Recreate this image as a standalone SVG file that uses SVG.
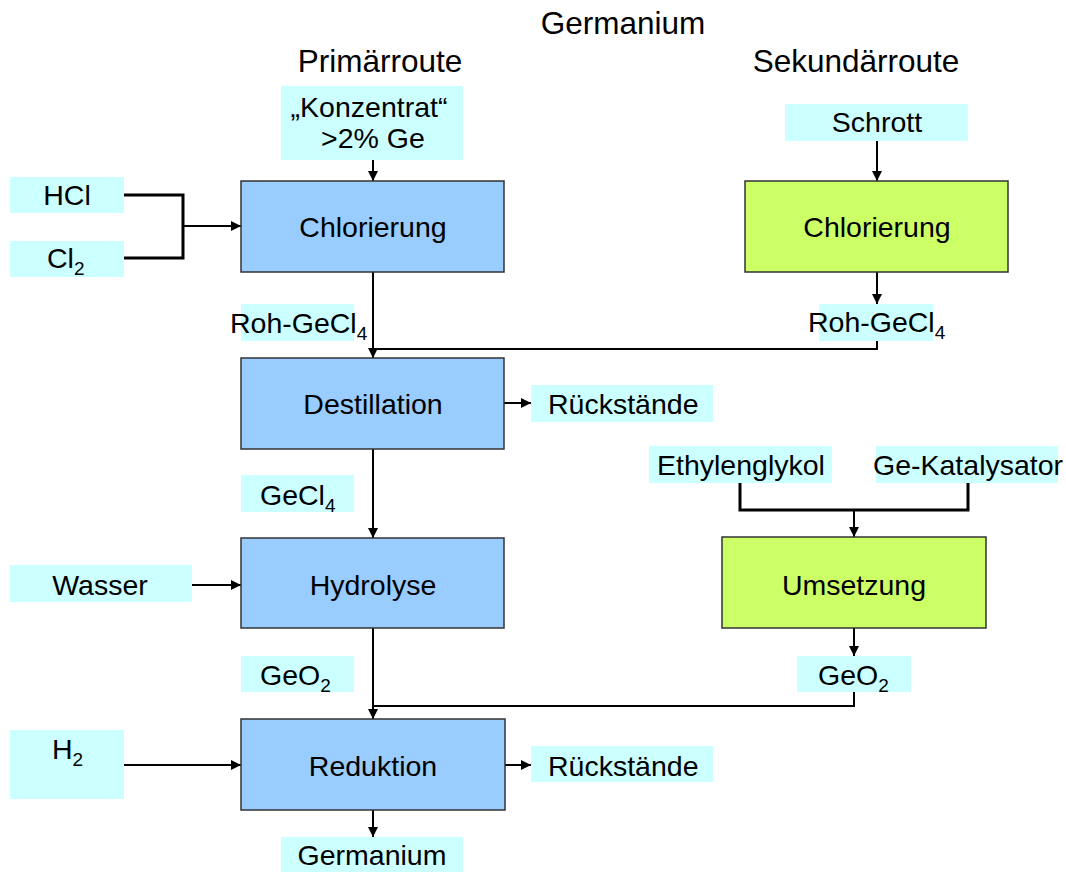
<svg xmlns="http://www.w3.org/2000/svg" width="1066" height="872" viewBox="0 0 1066 872">
  <style>
    text { font-family: "Liberation Sans", Arial, sans-serif; fill: #000; }
    .head { font-size: 31.5px; }
    .t { font-size: 28.5px; }
    .c { text-anchor: middle; }
    .sub { font-size: 19px; }
    .lbl { fill: #CCFFFF; stroke: none; }
    .blue { fill: #99CCFF; stroke: #333; stroke-width: 1.5; }
    .green { fill: #CCFF66; stroke: #333; stroke-width: 1.5; }
    .ln { fill: none; stroke: #000; stroke-width: 2; }
    .br { fill: none; stroke: #000; stroke-width: 3; }
    .arr { marker-end: url(#ah); }
  </style>
  <defs>
    <marker id="ah" markerUnits="userSpaceOnUse" markerWidth="11" markerHeight="11" refX="10" refY="5" orient="auto">
      <path d="M0,0 L10,5 L0,10 z" fill="#000"/>
    </marker>
  </defs>
  <rect width="1066" height="872" fill="#fff"/>

  <!-- headings -->
  <g id="headings">
    <text class="head c" x="623" y="34">Germanium</text>
    <text class="head c" x="380" y="72">Primärroute</text>
    <text class="head c" x="856" y="72">Sekundärroute</text>
  </g>

  <!-- connectors -->
  <g id="connectors">
    <path class="ln arr" d="M373,160 V181"/>
    <path class="br" d="M124,195 H183 V258 H124"/>
    <path class="ln arr" d="M183,226 H241"/>
    <path class="ln arr" d="M373,272 V358"/>
    <path class="ln arr" d="M877,141 V181"/>
    <path class="ln arr" d="M877,272 V304"/>
    <path class="ln" d="M877,341 V349 H373"/>
    <path class="ln arr" d="M504,403 H531"/>
    <path class="ln arr" d="M373,449 V538"/>
    <path class="ln arr" d="M192,585 H241"/>
    <path class="ln arr" d="M373,628 V719"/>
    <path class="br" d="M740,483 V510 H968 V483"/>
    <path class="ln arr" d="M854,510 V537"/>
    <path class="ln arr" d="M854,628 V656"/>
    <path class="ln" d="M854,692 V706 H373"/>
    <path class="ln arr" d="M124,765 H241"/>
    <path class="ln arr" d="M505,765 H531"/>
    <path class="ln arr" d="M373,810 V837"/>
  </g>

  <!-- primary route inputs -->
  <g id="konzentrat">
    <rect class="lbl" x="281" y="86" width="182" height="74"/>
    <text class="t c" x="369" y="117">„Konzentrat“</text>
    <text class="t c" x="373" y="148">&gt;2% Ge</text>
  </g>
  <g id="hcl">
    <rect class="lbl" x="10" y="177" width="114" height="36"/>
    <text class="t c" x="67" y="205">HCl</text>
  </g>
  <g id="cl2">
    <rect class="lbl" x="10" y="241" width="114" height="36"/>
    <text class="t" x="47" y="268">Cl<tspan class="sub" dy="7">2</tspan></text>
  </g>

  <!-- primary route process steps -->
  <g id="chlorierung-primaer">
    <rect class="blue" x="241" y="181" width="263" height="91"/>
    <text class="t c" x="373" y="237">Chlorierung</text>
  </g>
  <g id="roh-gecl4-links">
    <rect class="lbl" x="241" y="304" width="113" height="37"/>
    <text class="t" x="230" y="333">Roh-GeCl<tspan class="sub" dy="7">4</tspan></text>
  </g>
  <g id="destillation">
    <rect class="blue" x="241" y="358" width="263" height="91"/>
    <text class="t c" x="373" y="414">Destillation</text>
  </g>
  <g id="rueckstaende-1">
    <rect class="lbl" x="531" y="385" width="182" height="37"/>
    <text class="t" x="548" y="414">Rückstände</text>
  </g>
  <g id="gecl4">
    <rect class="lbl" x="241" y="475" width="113" height="37"/>
    <text class="t" x="260" y="505">GeCl<tspan class="sub" dy="7">4</tspan></text>
  </g>
  <g id="wasser">
    <rect class="lbl" x="10" y="565" width="182" height="37"/>
    <text class="t c" x="100" y="595">Wasser</text>
  </g>
  <g id="hydrolyse">
    <rect class="blue" x="241" y="538" width="263" height="90"/>
    <text class="t c" x="373" y="595">Hydrolyse</text>
  </g>
  <g id="geo2-links">
    <rect class="lbl" x="241" y="656" width="113" height="36"/>
    <text class="t" x="260" y="685">GeO<tspan class="sub" dy="7">2</tspan></text>
  </g>
  <g id="h2">
    <rect class="lbl" x="10" y="730" width="114" height="69"/>
    <text class="t" x="52" y="759">H<tspan class="sub" dy="7">2</tspan></text>
  </g>
  <g id="reduktion">
    <rect class="blue" x="241" y="719" width="264" height="91"/>
    <text class="t c" x="373" y="776">Reduktion</text>
  </g>
  <g id="rueckstaende-2">
    <rect class="lbl" x="531" y="746" width="182" height="36"/>
    <text class="t" x="548" y="776">Rückstände</text>
  </g>
  <g id="germanium">
    <rect class="lbl" x="281" y="837" width="182" height="35"/>
    <text class="t c" x="372" y="865">Germanium</text>
  </g>

  <!-- secondary route -->
  <g id="schrott">
    <rect class="lbl" x="785" y="104" width="183" height="37"/>
    <text class="t c" x="877" y="132">Schrott</text>
  </g>
  <g id="chlorierung-sekundaer">
    <rect class="green" x="745" y="181" width="263" height="91"/>
    <text class="t c" x="877" y="237">Chlorierung</text>
  </g>
  <g id="roh-gecl4-rechts">
    <rect class="lbl" x="819" y="304" width="114" height="37"/>
    <text class="t" x="808" y="332">Roh-GeCl<tspan class="sub" dy="7">4</tspan></text>
  </g>
  <g id="ethylenglykol">
    <rect class="lbl" x="649" y="446" width="183" height="37"/>
    <text class="t" x="657" y="475">Ethylenglykol</text>
  </g>
  <g id="ge-katalysator">
    <rect class="lbl" x="876" y="446" width="182" height="37"/>
    <text class="t" x="873" y="475">Ge-Katalysator</text>
  </g>
  <g id="umsetzung">
    <rect class="green" x="722" y="537" width="264" height="91"/>
    <text class="t c" x="854" y="595">Umsetzung</text>
  </g>
  <g id="geo2-rechts">
    <rect class="lbl" x="797" y="656" width="114" height="36"/>
    <text class="t" x="818" y="685">GeO<tspan class="sub" dy="7">2</tspan></text>
  </g>
</svg>
